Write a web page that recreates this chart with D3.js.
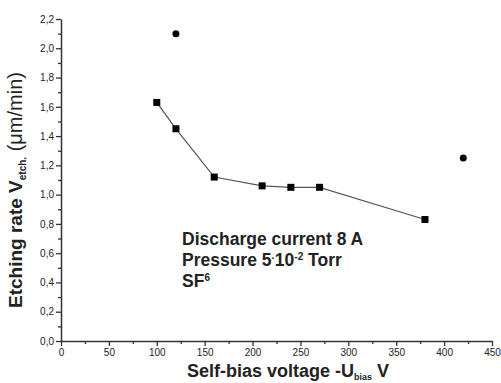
<!DOCTYPE html>
<html>
<head>
<meta charset="utf-8">
<script src="https://cdn.jsdelivr.net/npm/d3@7/dist/d3.min.js"></script>
<style>
  body { margin: 0; background: #fff; }
  text { font-family: "Liberation Sans", Arial, sans-serif; }
</style>
</head>
<body>
<div id="chart"></div>
<script>
// data
var lineX = [100, 120, 160, 210, 240, 270, 380];
var lineY = [1.63, 1.45, 1.12, 1.06, 1.05, 1.05, 0.83];
var dotX = [120, 420];
var dotY = [2.10, 1.25];
var xTicks = [0, 50, 100, 150, 200, 250, 300, 350, 400, 450];
var yTicks = [0, 0.2, 0.4, 0.6, 0.8, 1.0, 1.2, 1.4, 1.6, 1.8, 2.0, 2.2];

var W = 501, H = 383;
var margin = {top: 19, right: 9, bottom: 42, left: 61};
var w = W - margin.left - margin.right,
    h = H - margin.top - margin.bottom;

var svgBG = d3.select("#chart").append("svg").attr("width", W).attr("height", H);
var svg = svgBG.append("g").attr("transform", "translate(" + margin.left + "," + margin.top + ")");

var x = d3.scaleLinear().domain([0, 450]).range([0, w]);
var y = d3.scaleLinear().domain([0, 2.2]).range([h, 0]);

var fmt = function (d) { return d3.format(".1f")(d).replace(".", ","); };

// minor ticks first
svg.append("g").attr("transform", "translate(0," + h + ")")
    .call(d3.axisBottom(x).tickValues(d3.range(25, 450, 50)).tickSize(3).tickFormat(""))
    .call(function (g) { g.select(".domain").remove(); });
svg.append("g")
    .call(d3.axisLeft(y).tickValues(d3.range(0.1, 2.2, 0.2)).tickSize(3).tickFormat(""))
    .call(function (g) { g.select(".domain").remove(); });

var xAxis = svg.append("g").attr("class", "x axis").attr("transform", "translate(0," + h + ")")
    .call(d3.axisBottom(x).tickValues(xTicks).tickSize(5).tickSizeOuter(0).tickPadding(3).tickFormat(function (d) { return d; }));
var yAxis = svg.append("g").attr("class", "y axis")
    .call(d3.axisLeft(y).tickValues(yTicks).tickSize(5).tickSizeOuter(0).tickPadding(2).tickFormat(fmt));

svg.selectAll(".axis .domain").attr("stroke", "#333").attr("stroke-width", 1.5);
svg.selectAll("line").attr("stroke", "#333").attr("stroke-width", 1.3);
svg.selectAll(".axis text").attr("font-size", 10).attr("fill", "#222");

// line series
var pts = lineX.map(function (d, i) { return [d, lineY[i]]; });
svg.append("path").datum(pts)
    .attr("fill", "none").attr("stroke", "#555").attr("stroke-width", 1.2)
    .attr("d", d3.line().x(function (d) { return x(d[0]); }).y(function (d) { return y(d[1]); }));
svg.selectAll(".sq").data(pts).enter().append("rect").attr("class", "sq")
    .attr("x", function (d) { return x(d[0]) - 3.5; })
    .attr("y", function (d) { return y(d[1]) - 3.5; })
    .attr("width", 7).attr("height", 7).attr("fill", "#000");

// separate dots
svg.selectAll(".dot").data(dotX).enter().append("circle").attr("class", "dot")
    .attr("cx", function (d) { return x(d); })
    .attr("cy", function (d, i) { return y(dotY[i]); })
    .attr("r", 3.5).attr("fill", "#000");

// annotation
var note = svg.append("g").attr("font-size", 17.5).attr("font-weight", "bold").attr("fill", "#222");
note.append("text").attr("x", 121).attr("y", 226).text("Discharge current 8 A");
var t2 = note.append("text").attr("x", 121).attr("y", 247);
t2.append("tspan").text("Pressure 5");
t2.append("tspan").attr("dy", -4).attr("font-size", 10).text("·");
t2.append("tspan").attr("dy", 4).text("10");
t2.append("tspan").attr("dy", -6).attr("font-size", 10).text("-2");
t2.append("tspan").attr("dy", 6).text(" Torr");
var t3 = note.append("text").attr("x", 121).attr("y", 268);
t3.append("tspan").text("SF");
t3.append("tspan").attr("dy", -6).attr("font-size", 10).text("6");

// axis titles
var xl = svgBG.append("text").attr("x", 288).attr("y", 377).attr("text-anchor", "middle")
    .attr("font-size", 18).attr("font-weight", "bold").attr("fill", "#222");
xl.append("tspan").text("Self-bias voltage -U");
xl.append("tspan").attr("dy", 3).attr("font-size", 9).text("bias");
xl.append("tspan").attr("dy", -3).text(" V");

var yl = svgBG.append("text").attr("transform", "translate(22,190) rotate(-90)").attr("text-anchor", "middle")
    .attr("font-size", 19).attr("font-weight", "bold").attr("fill", "#222");
yl.append("tspan").text("Etching rate V");
yl.append("tspan").attr("dy", 4).attr("font-size", 10).text("etch.");
yl.append("tspan").attr("dy", -4).attr("font-weight", "normal").attr("font-size", 20).text(" (μm/min)");
</script>
</body>
</html>
